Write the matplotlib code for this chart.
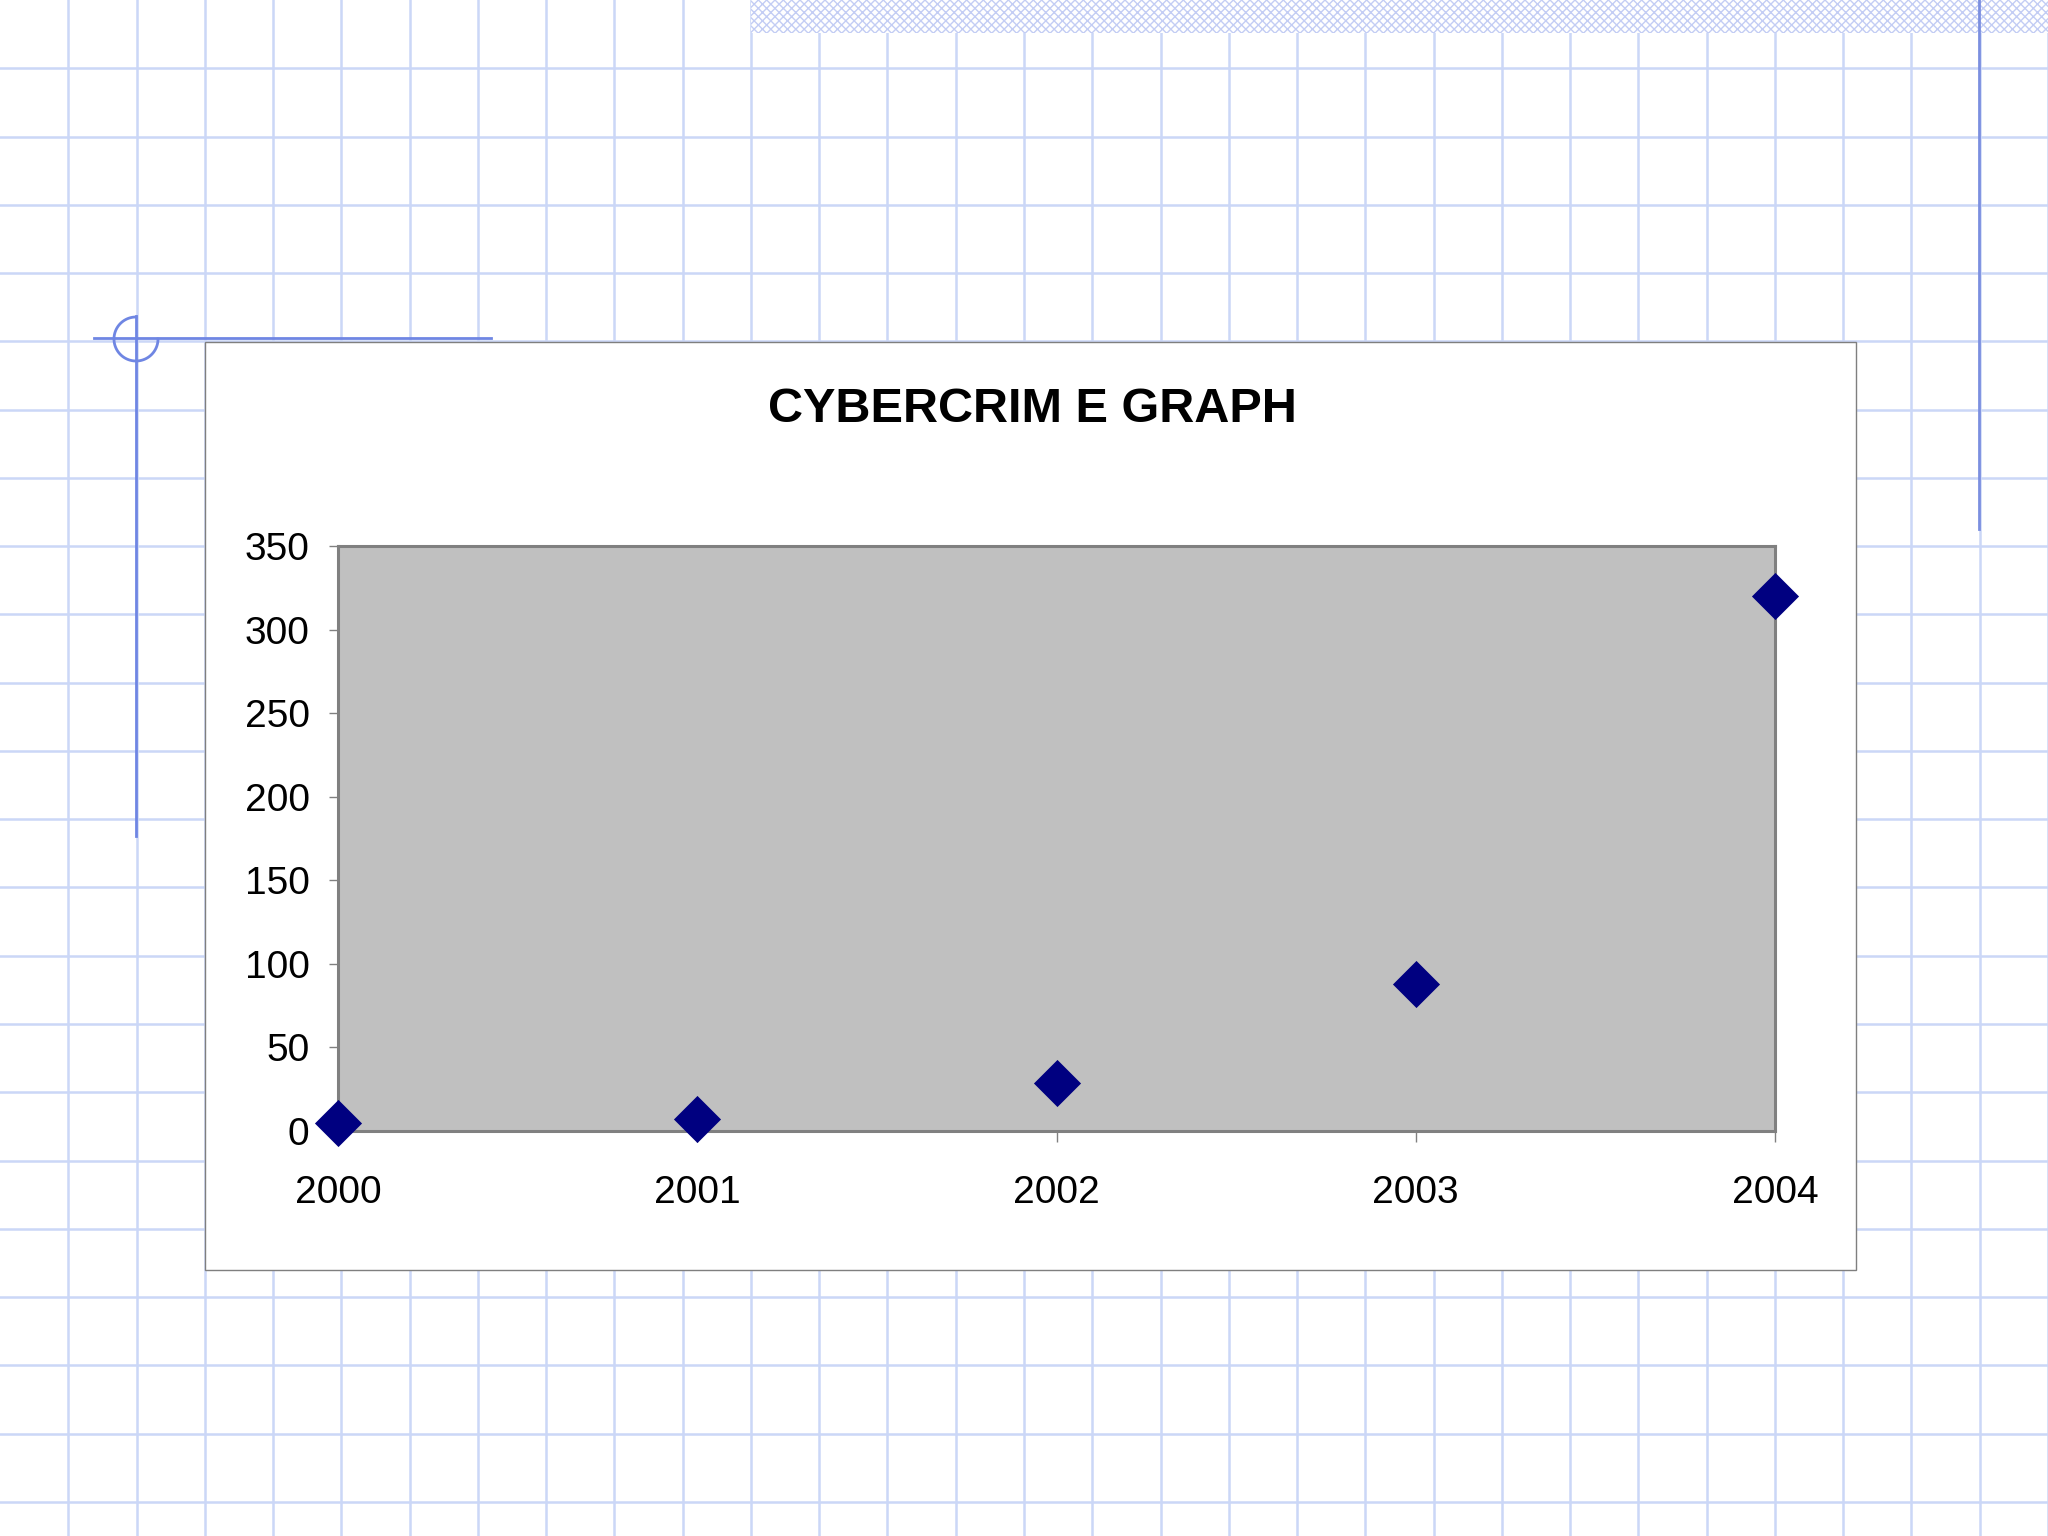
import numpy as np
import matplotlib.pyplot as plt
from matplotlib.patches import Rectangle

# data
years = [2000, 2001, 2002, 2003, 2004]
cases = [5, 7, 29, 88, 320]
yticks = [0, 50, 100, 150, 200, 250, 300, 350]
title = "CYBERCRIM E GRAPH"

plt.rcParams['font.family'] = ['Liberation Sans', 'DejaVu Sans']

W, H = 2048, 1536
fig = plt.figure(figsize=(20.48, 15.36), dpi=100)
fig.patch.set_facecolor('white')

# background sheet in pixel coordinates
bg = fig.add_axes([0, 0, 1, 1], zorder=0)
bg.set_xlim(0, W)
bg.set_ylim(H, 0)
bg.axis('off')

step = W / 30
gridcol = '#cbd7f7'
for k in range(1, 31):
    bg.axvline(k * step, color=gridcol, lw=1.8, zorder=1)
for k in range(1, 23):
    bg.axhline(k * step, color=gridcol, lw=1.8, zorder=1)

# hatched strip on top
plt.rcParams['hatch.linewidth'] = 1.0
bg.add_patch(Rectangle((751, 0), W - 751, 33, facecolor='white',
                       edgecolor='#c3cdf4', hatch='xxxx', lw=0, zorder=2))

# corner decoration: cross with a three-quarter circle (open top right)
deco = '#6f86e3'
bg.plot([94, 491], [338, 338], color=deco, lw=2, zorder=3)
bg.plot([136, 136], [316, 836], color=deco, lw=2, zorder=3)
t = np.radians(np.linspace(90, 360, 100))
bg.plot(136 + 22 * np.cos(t), 339 - 22 * np.sin(t), color=deco, lw=2, zorder=3)
bg.plot([1979, 1979], [0, 529], color='#7b8fe0', lw=2, zorder=3)

# white chart box
bg.add_patch(Rectangle((205, 342), 1651, 928, facecolor='white',
                       edgecolor='#7f7f7f', lw=1, zorder=4))

bg.text(1032, 410, title, ha='center', va='center', fontsize=35,
        fontweight='bold', color='black', zorder=5)

# plot area
ax = fig.add_axes([338 / W, 1 - 1131 / H, (1775 - 338) / W, (1131 - 546) / H], zorder=5)
ax.set_facecolor('#c0c0c0')
ax.scatter(years, cases, marker='D', s=24 ** 2, color='#000080',
           linewidths=0, clip_on=False, zorder=5)

ax.set_xlim(2000, 2004)
ax.set_ylim(0, 350)
ax.set_xticks(years)
ax.set_xticklabels([str(y) for y in years])
ax.set_yticks(yticks)
for s in ax.spines.values():
    s.set_color('#808080')
    s.set_linewidth(2.2)
ax.tick_params(axis='x', direction='out', length=8, width=1, color='#808080',
               labelsize=28, pad=24)
ax.tick_params(axis='y', direction='out', length=6.5, width=1, color='#808080',
               labelsize=28, pad=14)

fig.savefig('out.png', dpi=100)
